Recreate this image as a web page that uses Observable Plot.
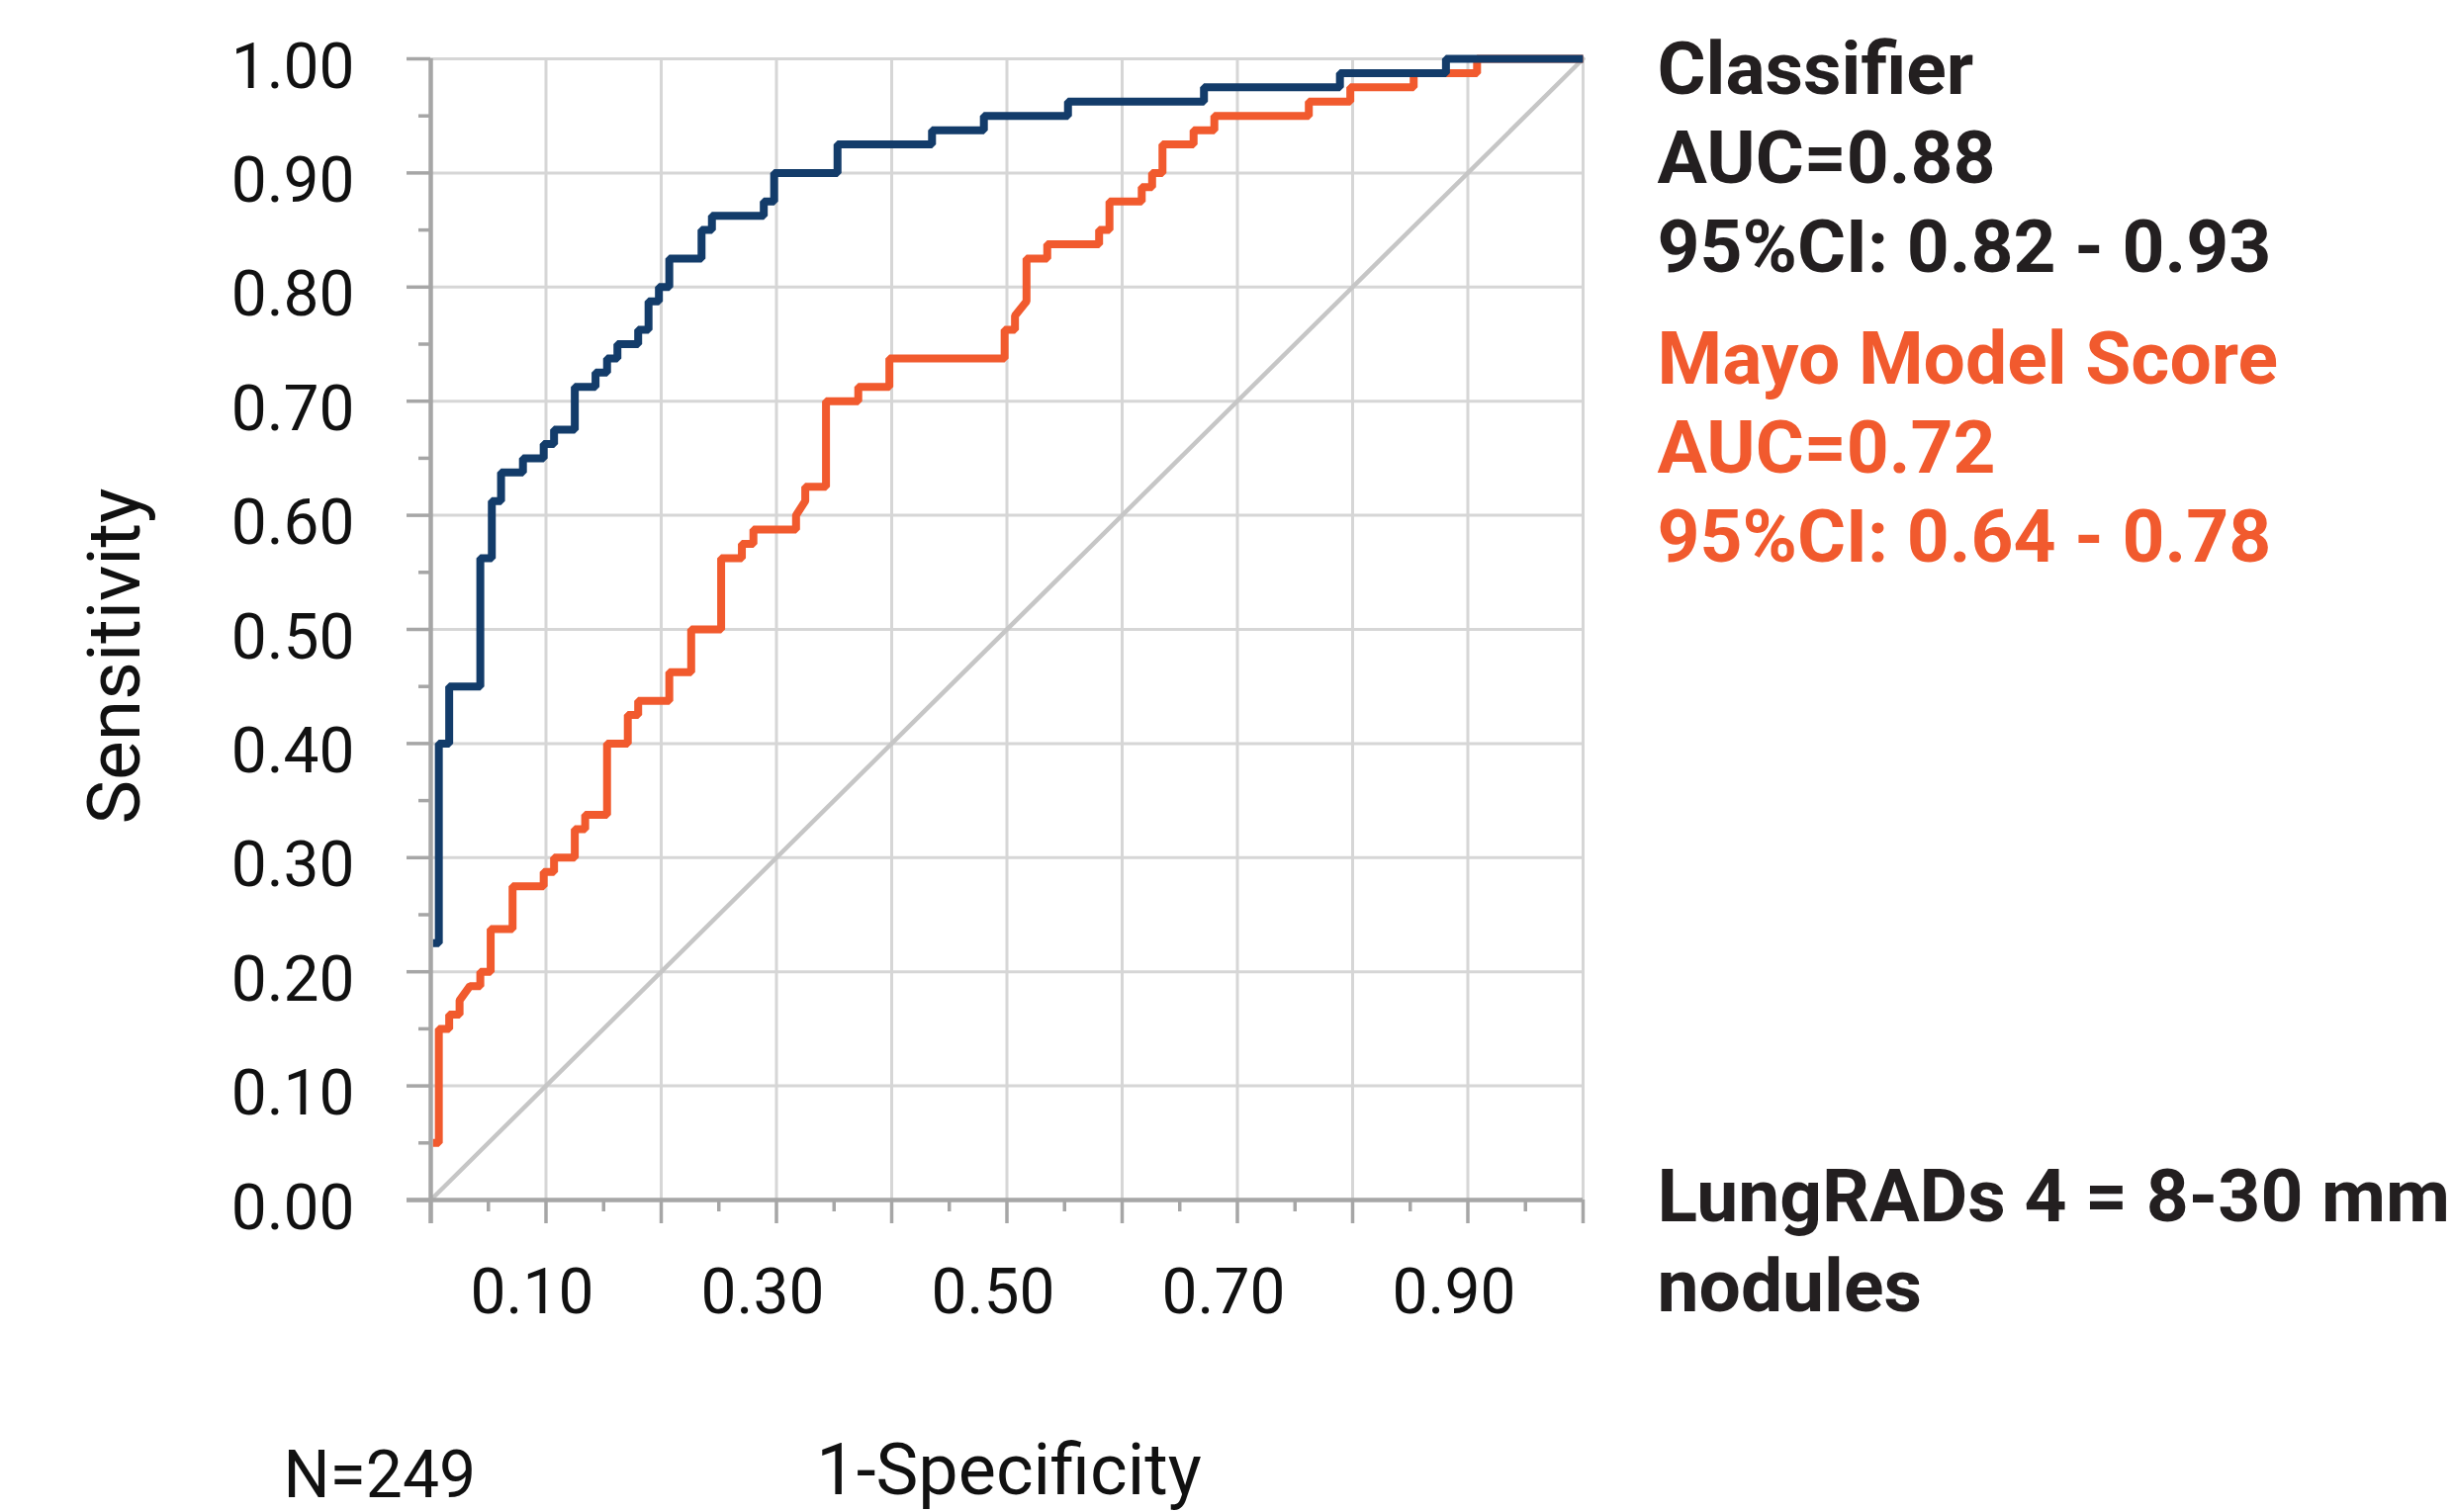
<!DOCTYPE html>
<html>
<head>
<meta charset="utf-8">
<script src="https://cdn.jsdelivr.net/npm/d3@7"></script>
<script src="https://cdn.jsdelivr.net/npm/@observablehq/plot@0.6"></script>
<style>
  html, body { margin: 0; padding: 0; background: #fff; }
</style>
</head>
<body>
<div id="chart"></div>
<script>
// ---- Data ----
// Classifier ROC: x where each sensitivity level starts, and that level
const classifierFpr = [0.002, 0.007, 0.016, 0.043, 0.053, 0.061, 0.080, 0.098, 0.107, 0.125, 0.143, 0.153, 0.162, 0.180, 0.189, 0.198, 0.207, 0.235, 0.244, 0.289, 0.298, 0.353, 0.435, 0.480, 0.553, 0.671, 0.789, 0.881, 1.000];
const classifierTpr = [0.225, 0.400, 0.450, 0.5625, 0.6125, 0.6375, 0.650, 0.6625, 0.675, 0.7125, 0.725, 0.7375, 0.750, 0.7625, 0.7875, 0.800, 0.825, 0.850, 0.8625, 0.875, 0.900, 0.925, 0.9375, 0.950, 0.9625, 0.975, 0.9875, 1.000, 1.000];

// Mayo Model Score ROC vertices
const mayoFpr = [0.002, 0.007, 0.007, 0.016, 0.016, 0.025, 0.025, 0.034, 0.043, 0.043, 0.052, 0.052, 0.071, 0.071, 0.098, 0.098, 0.107, 0.107, 0.125, 0.125, 0.134, 0.134, 0.153, 0.153, 0.171, 0.171, 0.180, 0.180, 0.207, 0.207, 0.226, 0.226, 0.252, 0.252, 0.270, 0.270, 0.280, 0.280, 0.317, 0.317, 0.325, 0.325, 0.343, 0.343, 0.371, 0.371, 0.398, 0.398, 0.498, 0.498, 0.507, 0.507, 0.517, 0.517, 0.535, 0.535, 0.580, 0.580, 0.589, 0.589, 0.617, 0.617, 0.626, 0.626, 0.635, 0.635, 0.662, 0.662, 0.680, 0.680, 0.762, 0.762, 0.798, 0.798, 0.853, 0.853, 0.908, 0.908, 1.000];
const mayoTpr = [0.050, 0.050, 0.150, 0.150, 0.1625, 0.1625, 0.175, 0.1875, 0.1875, 0.200, 0.200, 0.2375, 0.2375, 0.275, 0.275, 0.2875, 0.2875, 0.300, 0.300, 0.325, 0.325, 0.3375, 0.3375, 0.400, 0.400, 0.425, 0.425, 0.4375, 0.4375, 0.4625, 0.4625, 0.500, 0.500, 0.5625, 0.5625, 0.575, 0.575, 0.5875, 0.5875, 0.600, 0.6125, 0.625, 0.625, 0.700, 0.700, 0.7125, 0.7125, 0.7375, 0.7375, 0.7625, 0.7625, 0.775, 0.7875, 0.825, 0.825, 0.8375, 0.8375, 0.850, 0.850, 0.875, 0.875, 0.8875, 0.8875, 0.900, 0.900, 0.925, 0.925, 0.9375, 0.9375, 0.950, 0.950, 0.9625, 0.9625, 0.975, 0.975, 0.9875, 0.9875, 1.000, 1.000];

// Reference (chance) diagonal
const chanceLine = [0, 1];

// Tick labels
const xTickLabels = ["0.10", "0.30", "0.50", "0.70", "0.90"];
const yTickLabels = ["0.00", "0.10", "0.20", "0.30", "0.40", "0.50", "0.60", "0.70", "0.80", "0.90", "1.00"];

// Texts
const yTitle = "Sensitivity";
const xTitle = "1-Specificity";
const cohortNote = "N=249";
const classifierLegend = ["Classifier", "AUC=0.88", "95%CI: 0.82 - 0.93"];
const mayoLegend = ["Mayo Model Score", "AUC=0.72", "95%CI: 0.64 - 0.78"];
const subsetNote = ["LungRADs 4 = 8-30 mm", "nodules"];

// ---- Build ----
const classifier = classifierFpr.map((x, i) => ({x, y: classifierTpr[i]}));
const mayo = mayoFpr.map((x, i) => ({x, y: mayoTpr[i]}));

const majorTicks = d3.range(0, 11).map(i => i / 10);
const minorTicks = d3.range(0, 10).map(i => i / 10 + 0.05);
const gridTicks = majorTicks.slice(1);

const BLUE = "#133c6a";
const ORANGE = "#f15a2e";
const DARK = "#231f20";
const AXIS = "#a6a6a6";
const GRID = "#d6d6d6";
const FONT = "Roboto, 'Open Sans', sans-serif";

const chart = Plot.plot({
  width: 2481,
  height: 1529,
  marginLeft: 435,
  marginRight: 881,
  marginTop: 59,
  marginBottom: 316,
  x: {domain: [0, 1], axis: null},
  y: {domain: [0, 1], axis: null},
  style: {fontFamily: FONT, background: "#fff", overflow: "visible", color: DARK},
  marks: [
    // grid
    Plot.ruleX(gridTicks, {stroke: GRID, strokeWidth: 3}),
    Plot.ruleY(gridTicks, {stroke: GRID, strokeWidth: 3}),
    // chance diagonal
    Plot.line(chanceLine, {x: d => d, y: d => d, stroke: "#c6c6c6", strokeWidth: 4.5}),
    // ticks
    Plot.axisX(majorTicks, {anchor: "bottom", tickSize: 24, text: null, label: null, stroke: AXIS, strokeWidth: 3.5}),
    Plot.axisX(minorTicks, {anchor: "bottom", tickSize: 12, text: null, label: null, stroke: AXIS, strokeWidth: 3.5}),
    Plot.axisY(majorTicks, {anchor: "left", tickSize: 24, text: null, label: null, stroke: AXIS, strokeWidth: 3.5}),
    Plot.axisY(minorTicks, {anchor: "left", tickSize: 12, text: null, label: null, stroke: AXIS, strokeWidth: 3.5}),
    // axis lines
    Plot.ruleX([0], {stroke: AXIS, strokeWidth: 4.5, insetBottom: -24}),
    Plot.ruleY([0], {stroke: AXIS, strokeWidth: 4.5, insetLeft: -24}),
    // curves
    Plot.line(mayo, {x: "x", y: "y", stroke: ORANGE, strokeWidth: 8, strokeLinejoin: "miter", strokeLinecap: "butt"}),
    Plot.line(classifier, {x: "x", y: "y", curve: "step-after", stroke: BLUE, strokeWidth: 8, strokeLinejoin: "miter", strokeLinecap: "butt"}),
    // tick labels
    Plot.text(xTickLabels, {x: d => +d, text: d => d, frameAnchor: "bottom", lineAnchor: "bottom", dy: 114, dx: -14, fontSize: 64, fill: "#111"}),
    Plot.text(yTickLabels, {y: d => +d, text: d => d, frameAnchor: "left", textAnchor: "end", lineAnchor: "bottom", dx: -77, dy: 29, fontSize: 64, fill: "#111"}),
    // axis titles
    Plot.text([yTitle], {frameAnchor: "left", rotate: -90, textAnchor: "middle", lineAnchor: "middle", dx: -319, dy: 27, fontSize: 75, fill: "#111"}),
    Plot.text([xTitle], {frameAnchor: "bottom", textAnchor: "middle", lineAnchor: "bottom", dx: 2, dy: 297, fontSize: 72, fill: "#111"}),
    Plot.text([cohortNote], {frameAnchor: "bottom-left", textAnchor: "start", lineAnchor: "bottom", dx: -149, dy: 300, fontSize: 66, fill: "#111"}),
    // legend / annotations on the right
    Plot.text([classifierLegend.join("\n")], {frameAnchor: "top-right", textAnchor: "start", lineAnchor: "top", dx: 75, dy: -29, fontSize: 75, fontWeight: 700, lineHeight: 1.205, fill: DARK}),
    Plot.text([mayoLegend.join("\n")], {frameAnchor: "top-right", textAnchor: "start", lineAnchor: "top", dx: 75, dy: 264, fontSize: 75, fontWeight: 700, lineHeight: 1.205, fill: ORANGE}),
    Plot.text([subsetNote.join("\n")], {frameAnchor: "top-right", textAnchor: "start", lineAnchor: "top", dx: 75, dy: 1111, fontSize: 75, fontWeight: 700, lineHeight: 1.21, fill: DARK})
  ]
});

document.getElementById("chart").appendChild(chart);
</script>
</body>
</html>
